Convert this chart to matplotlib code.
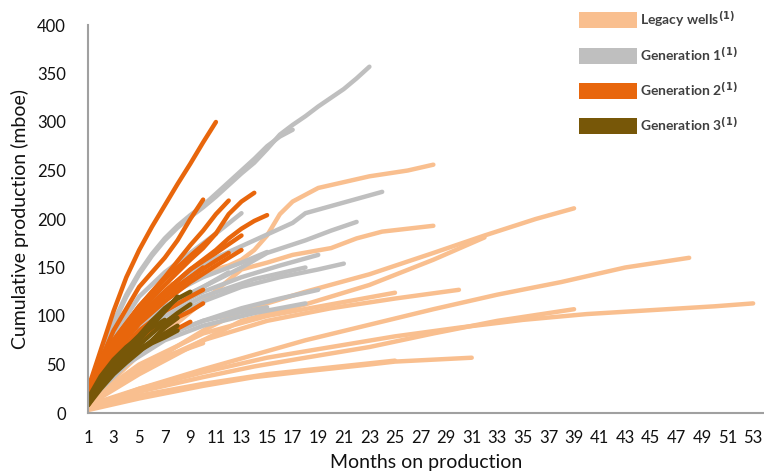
import matplotlib.pyplot as plt
from matplotlib.patches import Patch

# well curves: months on production and cumulative mboe
legacy_months = [
    [1, 5, 10, 15, 20, 25, 30, 35, 40, 45, 50, 53],
    [1, 5, 10, 14, 18, 23, 28, 33, 38, 43, 46, 48],
    [1, 5, 10, 13, 18, 23, 28, 32, 36, 39],
    [1, 5, 10, 14, 18, 23, 28, 33, 36, 39],
    [1, 5, 10, 13, 18, 23, 28, 32],
    [1, 3, 6, 9, 12, 13, 14, 15, 16, 17, 19, 21, 23, 26, 28],
    [1, 5, 10, 13, 15, 17, 20, 22, 24, 26, 28],
    [1, 5, 10, 14, 18, 23, 25, 28, 31],
    [1, 5, 10, 15, 20, 25, 30],
    [1, 5, 10, 15, 20, 25],
    [1, 5, 10, 15, 20, 25],
    [1, 3, 5, 7, 10],
]
legacy_values = [
    [8, 25, 42, 57, 68, 79, 88, 96, 102, 106, 110, 113],
    [5, 25, 45, 60, 75, 91, 107, 122, 135, 150, 156, 160],
    [10, 45, 85, 105, 125, 143, 165, 183, 200, 211],
    [6, 22, 37, 48, 57, 68, 82, 95, 101, 107],
    [8, 40, 75, 95, 112, 132, 158, 181],
    [15, 75, 125, 140, 152, 158, 168, 183, 205, 218, 232, 238, 244, 250, 256],
    [10, 60, 115, 148, 155, 163, 170, 180, 187, 190, 193],
    [3, 15, 28, 37, 43, 50, 53, 55, 57],
    [10, 45, 75, 95, 108, 118, 127],
    [12, 50, 82, 100, 112, 124],
    [5, 18, 30, 40, 47, 54],
    [5, 30, 45, 58, 72],
]

gen1_months = [
    list(range(1, 24)),
    list(range(1, 18)),
    [1, 3, 5, 8, 11, 14, 17, 18, 21, 24],
    [1, 4, 7, 10, 13, 15, 18, 20, 22],
    [1, 3, 5, 7, 9, 11, 13],
    [1, 4, 7, 10, 13, 16, 19, 21],
    [1, 4, 7, 10, 13, 16, 19],
    [1, 4, 7, 10, 13, 16, 19],
    [1, 4, 7, 10, 14, 18],
    [1, 4, 7, 10, 13, 15],
    [1, 4, 7, 10, 13, 15],
    [1, 4, 7, 10, 14, 18],
    [1, 4, 7, 10, 12],
]
gen1_values = [
    [15, 58, 92, 120, 143, 162, 178, 191, 202, 212, 223, 235, 247, 258, 272, 287,
     297, 306, 316, 325, 334, 345, 357],
    [15, 60, 94, 122, 145, 164, 180, 193, 204, 214, 226, 238, 250, 262, 275, 285, 292],
    [15, 70, 105, 135, 160, 178, 196, 206, 217, 228],
    [15, 80, 110, 130, 150, 165, 178, 188, 197],
    [20, 80, 120, 145, 165, 185, 206],
    [15, 70, 95, 115, 130, 140, 148, 154],
    [18, 75, 105, 125, 140, 152, 163],
    [12, 55, 80, 95, 108, 118, 127],
    [12, 50, 75, 90, 103, 113],
    [20, 85, 120, 140, 155, 166],
    [12, 55, 80, 95, 104, 109],
    [15, 70, 100, 120, 138, 150],
    [18, 80, 110, 130, 145],
]

gen2_months = [
    list(range(1, 12)),
    [1, 3, 5, 7, 8, 9, 10],
    [1, 3, 5, 7, 9, 10, 11, 12],
    [1, 3, 5, 7, 9, 10, 11, 12, 13, 14],
    [1, 3, 5, 7, 9, 11, 12, 13, 14, 15],
    [1, 3, 5, 7, 9, 11, 13],
    [1, 3, 5, 7, 9, 11, 13],
    [1, 3, 5, 7, 9, 10],
    [1, 3, 5, 7, 9],
    [1, 3, 5, 7, 9, 10],
    [1, 3, 5, 7, 9, 11, 12],
    [1, 3, 5, 7, 9, 11],
    [1, 3, 5, 7, 9, 10],
]
gen2_values = [
    [25, 65, 105, 140, 168, 192, 214, 236, 257, 279, 300],
    [25, 85, 130, 160, 178, 200, 220],
    [20, 75, 110, 140, 173, 188, 205, 219],
    [20, 70, 105, 132, 158, 170, 185, 205, 218, 227],
    [18, 65, 100, 125, 148, 168, 180, 190, 198, 204],
    [18, 65, 100, 125, 148, 165, 183],
    [15, 60, 92, 115, 135, 152, 168],
    [15, 50, 75, 92, 105, 113],
    [12, 45, 65, 80, 94],
    [18, 55, 85, 105, 120, 127],
    [18, 60, 95, 120, 140, 157, 165],
    [22, 75, 110, 138, 162, 185],
    [20, 65, 100, 122, 140, 150],
]

gen3_months = [
    list(range(1, 10)),
    list(range(1, 9)),
    list(range(1, 10)),
    list(range(1, 9)),
    list(range(1, 9)),
    list(range(1, 8)),
    list(range(1, 9)),
]
gen3_values = [
    [12, 35, 52, 67, 80, 95, 108, 118, 125],
    [10, 32, 48, 62, 75, 90, 105, 120],
    [10, 30, 45, 58, 70, 82, 93, 103, 112],
    [8, 28, 42, 54, 64, 72, 78, 85],
    [8, 25, 40, 52, 63, 75, 88, 98],
    [15, 38, 55, 68, 78, 88, 96],
    [12, 30, 44, 56, 66, 74, 82, 90],
]

labels = ["Legacy wells", "Generation 1", "Generation 2", "Generation 3"]
colors = ["#F9BF8F", "#BFBFBF", "#E8660C", "#775708"]

plt.rcParams['font.family'] = ['Lato', 'DejaVu Sans']

fig = plt.figure(figsize=(7.64, 4.73), dpi=100)
ax = fig.add_axes([88 / 764, 60 / 473, 676 / 764, 388 / 473])

groups = [(legacy_months, legacy_values), (gen1_months, gen1_values),
          (gen2_months, gen2_values), (gen3_months, gen3_values)]
for (mm, vv), c in zip(groups, colors):
    for m, v in zip(mm, vv):
        ax.plot(m, v, color=c, lw=3.2, solid_capstyle='round', solid_joinstyle='round')

ax.set_xlim(1, 53.85)
ax.set_ylim(0, 400)
ax.set_xticks(range(1, 54, 2))
ax.set_yticks(range(0, 401, 50))
ax.tick_params(length=0, labelsize=12, colors='#111111')
ax.tick_params(axis='y', pad=16)
ax.tick_params(axis='x', pad=12)
for s in ['top', 'right']:
    ax.spines[s].set_visible(False)
for s in ['left', 'bottom']:
    ax.spines[s].set_color('#A0A0A0')
    ax.spines[s].set_linewidth(1.5)

ax.set_xlabel("Months on production", fontsize=14, color='#111111', labelpad=6)
ax.set_ylabel("Cumulative production (mboe)", fontsize=14, color='#111111', labelpad=6)

handles = [Patch(facecolor=c, edgecolor='none') for c in colors]
leg_labels = [lab + r"$^{\mathbf{(1)}}$" for lab in labels]
leg = fig.legend(handles, leg_labels, loc='upper left', bbox_to_anchor=(579 / 764, 1 - 9 / 473),
                 frameon=False, fontsize=10, handlelength=4.2, handleheight=1.4,
                 labelspacing=1.15, handletextpad=0.2, borderaxespad=0, borderpad=0)
for t in leg.get_texts():
    t.set_fontweight('bold')
    t.set_color('#404040')

fig.savefig("out.png", dpi=100)
